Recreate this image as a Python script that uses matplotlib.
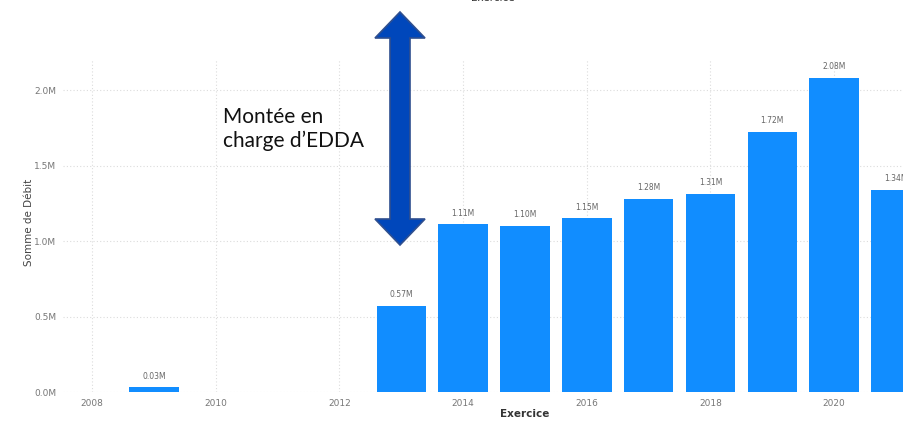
import matplotlib.pyplot as plt
from matplotlib.patches import Polygon
from matplotlib.ticker import FuncFormatter

# Somme de Débit par exercice (en millions)
annees = [2009, 2013, 2014, 2015, 2016, 2017, 2018, 2019, 2020, 2021]
debit = [0.03, 0.57, 1.11, 1.10, 1.15, 1.28, 1.31, 1.72, 2.08, 1.34]
etiquettes = ["0.03M", "0.57M", "1.11M", "1.10M", "1.15M", "1.28M",
              "1.31M", "1.72M", "2.08M", "1.34M"]
graduations_x = [2008, 2010, 2012, 2014, 2016, 2018, 2020]
graduations_y = [0.0, 0.5, 1.0, 1.5, 2.0]

W, H = 904, 422
fig = plt.figure(figsize=(W / 100, H / 100), dpi=100)
ax = fig.add_axes([63 / W, 30 / H, 1 - 63 / W, 332 / H])

ax.bar(annees, debit, width=0.8, color="#118DFF", zorder=2)
for x, y, t in zip(annees, debit, etiquettes):
    ax.annotate(t, (x, y), xytext=(0, 5), textcoords="offset points",
                ha="center", va="bottom", fontsize=5.5, color="#666666")

ax.set_xlim(2007.53, 2021.13)
ax.set_ylim(0, 2.2)
ax.set_xticks(graduations_x)
ax.set_yticks(graduations_y)
ax.yaxis.set_major_formatter(FuncFormatter(lambda v, p: f"{v:.1f}M"))
ax.tick_params(length=0, labelsize=6.5, colors="#777777", pad=5)
ax.tick_params(axis="y", pad=5)
ax.grid(True, color="#dcdcdc", linestyle=(0, (1, 2)), linewidth=0.8, zorder=0)
for s in ax.spines.values():
    s.set_visible(False)

ax.set_ylabel("Somme de Débit", fontsize=7.5, color="#444444")
ax.yaxis.set_label_coords(-29 / 841, 0.51)
ax.set_xlabel("Exercice", fontsize=7.5, color="#333333",
              fontweight="semibold")
ax.xaxis.set_label_coords(462 / 841, -17 / 332)
fig.text(493 / W, 1.0 + 2 / H, "Exercice", ha="center", va="center",
         fontsize=7.5, color="#333333")

# flèche double verticale
def px(x, y):
    return (x / W, 1 - y / H)

cx, haut, bas = 400, 12, 245
demi_tige, demi_tete, long_tete = 10, 25, 26
pts = [px(cx, haut), px(cx + demi_tete, haut + long_tete),
       px(cx + demi_tige, haut + long_tete), px(cx + demi_tige, bas - long_tete),
       px(cx + demi_tete, bas - long_tete), px(cx, bas),
       px(cx - demi_tete, bas - long_tete), px(cx - demi_tige, bas - long_tete),
       px(cx - demi_tige, haut + long_tete), px(cx - demi_tete, haut + long_tete)]
fig.add_artist(Polygon(pts, closed=True, transform=fig.transFigure,
                       facecolor="#0047BB", edgecolor="#2F4F8F", linewidth=1.2))

fig.text(223 / W, 1 - 129 / H, "Montée en\ncharge d’EDDA", ha="left",
         va="center", fontsize=15, family=["Lato", "DejaVu Sans"],
         linespacing=1.2, color="#111111")

fig.savefig("out.png", dpi=100)
